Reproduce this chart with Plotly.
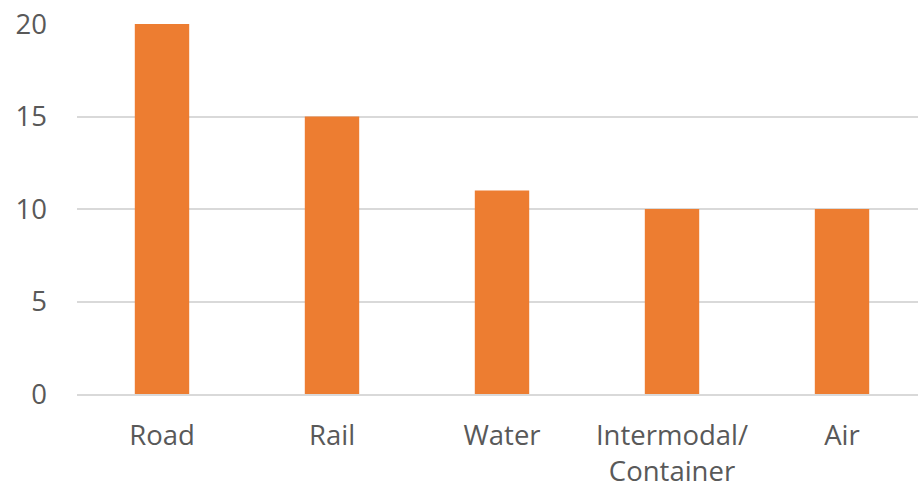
import plotly.graph_objects as go

# Freight transport modes and their values
categories = ["Road", "Rail", "Water", "Intermodal/Container", "Air"]
tick_labels = ["Road", "Rail", "Water", "Intermodal/<br>Container", "Air"]
values = [20, 15, 11, 10, 10]
y_ticks = [0, 5, 10, 15, 20]

BAR_COLOR = "#ED7D31"
TEXT_COLOR = "#595959"
GRID_COLOR = "#D9D9D9"
FONT = "Open Sans"

fig = go.Figure(
    go.Bar(
        x=categories,
        y=values,
        marker=dict(color=BAR_COLOR, line=dict(width=0)),
        hoverinfo="x+y",
    )
)

fig.update_layout(
    width=918,
    height=489,
    margin=dict(l=77, r=0, t=24, b=93),
    paper_bgcolor="white",
    plot_bgcolor="white",
    bargap=0.68,
    showlegend=False,
    font=dict(family=FONT, size=27.5, color=TEXT_COLOR),
)

fig.update_xaxes(
    type="category",
    range=[-0.5, 4.447],
    tickmode="array",
    tickvals=categories,
    ticktext=tick_labels,
    showgrid=False,
    showline=True,
    linecolor=GRID_COLOR,
    linewidth=2,
    ticks="",
    ticklabelstandoff=16,
    tickfont=dict(family=FONT, size=27.5, color=TEXT_COLOR),
)

fig.update_yaxes(
    range=[0, 20],
    tickmode="array",
    tickvals=y_ticks,
    showgrid=True,
    gridcolor=GRID_COLOR,
    gridwidth=2,
    zeroline=False,
    showline=False,
    ticks="",
    ticklabelstandoff=29,
    tickfont=dict(family=FONT, size=27.5, color=TEXT_COLOR),
)

fig.write_html("out.html")
